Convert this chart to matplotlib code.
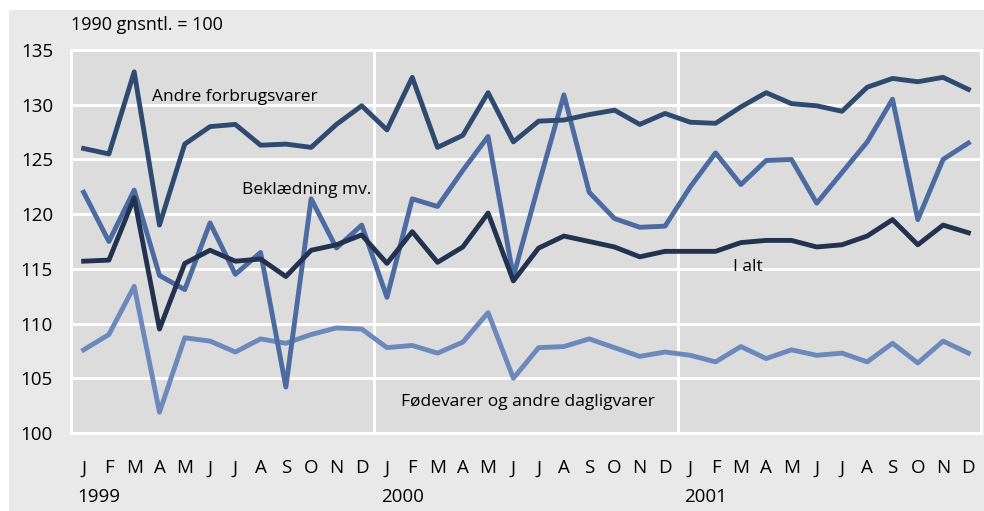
import matplotlib.pyplot as plt
from matplotlib.patches import Rectangle
from matplotlib.transforms import blended_transform_factory

plt.rcParams["font.family"] = ["Open Sans", "DejaVu Sans"]

months = ["J", "F", "M", "A", "M", "J", "J", "A", "S", "O", "N", "D"] * 3
years = ["1999", "2000", "2001"]

andre = [126.0, 125.5, 133.0, 119.0, 126.4, 128.0, 128.2, 126.3, 126.4, 126.1, 128.2, 129.9,
         127.7, 132.5, 126.1, 127.2, 131.1, 126.6, 128.5, 128.6, 129.1, 129.5, 128.2, 129.2,
         128.4, 128.3, 129.8, 131.1, 130.1, 129.9, 129.4, 131.6, 132.4, 132.1, 132.5, 131.4]
beklaedning = [122.0, 117.5, 122.2, 114.4, 113.1, 119.2, 114.5, 116.5, 104.2, 121.4, 116.9, 119.0,
               112.4, 121.4, 120.7, 124.0, 127.1, 114.3, 122.7, 130.9, 122.0, 119.6, 118.8, 118.9,
               122.5, 125.6, 122.7, 124.9, 125.0, 121.0, 123.8, 126.6, 130.5, 119.5, 125.0, 126.5]
i_alt = [115.7, 115.8, 121.5, 109.5, 115.5, 116.7, 115.7, 115.9, 114.3, 116.7, 117.2, 118.1,
         115.5, 118.4, 115.6, 117.0, 120.1, 113.9, 116.9, 118.0, 117.5, 117.0, 116.1, 116.6,
         116.6, 116.6, 117.4, 117.6, 117.6, 117.0, 117.2, 118.0, 119.5, 117.2, 119.0, 118.3]
foedevarer = [107.6, 109.0, 113.4, 101.9, 108.7, 108.4, 107.4, 108.6, 108.2, 109.0, 109.6, 109.5,
              107.8, 108.0, 107.3, 108.3, 111.0, 105.0, 107.8, 107.9, 108.6, 107.8, 107.0, 107.4,
              107.1, 106.5, 107.9, 106.8, 107.6, 107.1, 107.3, 106.5, 108.2, 106.4, 108.4, 107.3]

x = list(range(len(months)))

fig = plt.figure(figsize=(9.84, 5.11), dpi=100)
fig.patch.set_facecolor("white")
bg = Rectangle((9 / 984, 0), 1, 501 / 511, transform=fig.transFigure,
               facecolor="#e9e9e9", edgecolor="none", linewidth=0, zorder=-10)
fig.patches.append(bg)

ax = fig.add_axes([71 / 984, 78 / 511, 910 / 984, 383 / 511])
ax.set_zorder(1)
ax.set_facecolor("#dcdcdc")

ax.plot(x, foedevarer, color="#6c89bb", lw=3.5, zorder=3)
ax.plot(x, beklaedning, color="#4b6ba1", lw=3.5, zorder=4)
ax.plot(x, andre, color="#2f4a6f", lw=3.5, zorder=5)
ax.plot(x, i_alt, color="#22324f", lw=3.5, zorder=6)

ax.set_xlim(-0.5, 35.5)
ax.set_ylim(100, 135)
ax.set_yticks(range(100, 136, 5))
ax.grid(axis="y", color="white", lw=2)
ax.set_axisbelow(True)
for xv in (11.5, 23.5):
    ax.axvline(xv, color="white", lw=2, zorder=1)
for s in ax.spines.values():
    s.set_color("white")
    s.set_linewidth(2)

ax.set_xticks(x)
ax.set_xticklabels(months)
ax.tick_params(axis="x", length=0, pad=19, labelsize=13.5)
ax.tick_params(axis="y", length=0, pad=13, labelsize=13.5)

trans = blended_transform_factory(ax.transData, ax.transAxes)
for i, yr in enumerate(years):
    ax.text(i * 12 - 0.25, -0.167, yr, transform=trans, ha="left", va="center", fontsize=13.5)

ax.text(-0.5, 1.065, "1990 gnsntl. = 100", transform=trans, ha="left", va="center",
        fontsize=13)

ax.text(2.7, 130.7, "Andre forbrugsvarer", ha="left", va="center", fontsize=12.5)
ax.text(6.25, 122.2, "Beklædning mv.", ha="left", va="center", fontsize=12.5)
ax.text(25.7, 115.2, "I alt", ha="left", va="center", fontsize=12.5)
ax.text(12.55, 102.8, "Fødevarer og andre dagligvarer", ha="left", va="center", fontsize=12.5)

fig.savefig("out.png", dpi=100)
